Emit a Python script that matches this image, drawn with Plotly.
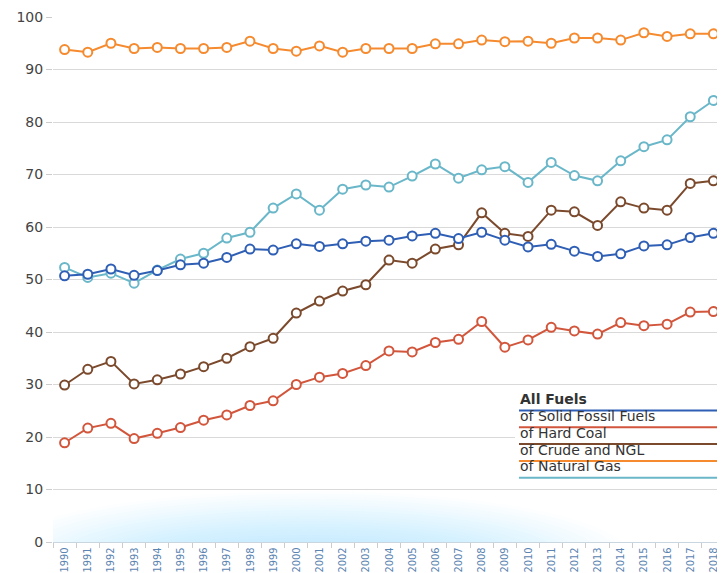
import plotly.graph_objects as go

years = [str(y) for y in range(1990, 2019)]

all_fuels = [50.7, 51.0, 52.0, 50.8, 51.7, 52.8, 53.1, 54.2, 55.8, 55.6, 56.8, 56.3, 56.8, 57.3,
             57.5, 58.3, 58.8, 57.8, 59.0, 57.5, 56.2, 56.7, 55.4, 54.4, 54.9, 56.4, 56.6, 58.0, 58.8]
solid_fossil = [18.9, 21.7, 22.6, 19.7, 20.7, 21.8, 23.2, 24.2, 26.0, 26.9, 30.0, 31.4, 32.1, 33.6,
                36.4, 36.2, 38.0, 38.6, 42.0, 37.1, 38.5, 40.9, 40.2, 39.6, 41.8, 41.2, 41.5, 43.8, 43.9]
hard_coal = [29.9, 32.9, 34.4, 30.1, 30.9, 32.0, 33.4, 35.0, 37.2, 38.8, 43.6, 45.9, 47.8, 49.0,
             53.7, 53.1, 55.8, 56.6, 62.7, 58.8, 58.2, 63.2, 62.9, 60.3, 64.8, 63.6, 63.2, 68.3, 68.8]
crude_ngl = [93.8, 93.3, 95.0, 94.0, 94.2, 94.0, 94.0, 94.2, 95.4, 94.0, 93.5, 94.5, 93.3, 94.0,
             94.0, 94.0, 94.9, 94.9, 95.6, 95.3, 95.4, 95.0, 96.0, 96.0, 95.6, 97.0, 96.3, 96.8, 96.8]
natural_gas = [52.3, 50.4, 51.2, 49.3, 51.8, 53.9, 55.0, 57.9, 59.0, 63.6, 66.3, 63.2, 67.2, 68.0,
               67.6, 69.7, 72.0, 69.3, 70.9, 71.5, 68.5, 72.3, 69.8, 68.8, 72.6, 75.3, 76.6, 81.0, 84.1]

series_names = ["All Fuels", "of Solid Fossil Fuels", "of Hard Coal", "of Crude and NGL", "of Natural Gas"]
series_values = [all_fuels, solid_fossil, hard_coal, crude_ngl, natural_gas]
colors = ["#2f5fb5", "#d2563c", "#7b4a2d", "#f58a2e", "#6ab7c9"]

# The page body adds an 8px offset; target plot area in page pixels: x 53..725, y 17..542
OFF = 8
W, H = 725 - OFF, 573 - OFF
PL, PT, PW, PH = 53, 17, 672, 525
L, T = PL - OFF, PT - OFF
R = W - L - PW
B = H - T - PH

fig = go.Figure()

order = [4, 3, 2, 1, 0]
for i in order:
    fig.add_trace(go.Scatter(
        x=years, y=series_values[i], name=series_names[i], mode="lines+markers",
        line=dict(color=colors[i], width=2),
        marker=dict(symbol="circle", size=9, color="white",
                    line=dict(color=colors[i], width=2)),
        showlegend=False, cliponaxis=False,
    ))


def px_x(p):
    return (p - PL) / PW


def px_y(p):
    return (PT + PH - p) / PH


def dx(p):
    return (p - 65) / 23.18


def dy(p):
    return (542 - p) / 5.25


shapes = []
# soft blue haze along the bottom of the plot area (clipped to plot)
for k in range(20):
    w = 640 - k * 20
    h = 130 - k * 5.5
    cx, cy = 310, 556
    shapes.append(dict(type="circle", xref="x", yref="y",
                       x0=dx(cx - w / 2), x1=dx(cx + w / 2),
                       y0=dy(cy + h / 2), y1=dy(cy - h / 2),
                       fillcolor="rgba(140,200,236,0.022)", line=dict(width=0), layer="below"))

# custom legend
shapes.append(dict(type="rect", xref="paper", yref="paper",
                   x0=px_x(515), x1=px_x(730), y0=px_y(481), y1=px_y(394),
                   fillcolor="white", line=dict(width=0), layer="above"))
annotations = []
line_y = [410.5, 427.3, 444.0, 461.0, 477.8]
for i, name in enumerate(series_names):
    shapes.append(dict(type="line", xref="paper", yref="paper",
                       x0=px_x(519), x1=px_x(730), y0=px_y(line_y[i]), y1=px_y(line_y[i]),
                       line=dict(color=colors[i], width=2), layer="above"))
    annotations.append(dict(xref="paper", yref="paper", x=px_x(518), y=px_y(line_y[i] - 1.5),
                            xanchor="left", yanchor="bottom", showarrow=False,
                            text=("<b>%s</b>" % name) if i == 0 else name,
                            font=dict(family="DejaVu Sans", size=14, color="#333333")))

fig.update_layout(
    width=W, height=H,
    margin=dict(l=L, r=R, t=T, b=B, pad=0, autoexpand=False),
    paper_bgcolor="white", plot_bgcolor="white",
    font=dict(family="DejaVu Sans", color="#444444"),
    shapes=shapes, annotations=annotations,
    xaxis=dict(type="category", range=[-0.5, 28.5], tickson="boundaries", automargin=False,
               ticks="outside", ticklen=5, tickcolor="#cccccc", showgrid=False,
               showline=True, linecolor="#c9d6e0", linewidth=1, tickangle=-90,
               tickfont=dict(family="DejaVu Sans Condensed, DejaVu Sans", size=11, color="#5b84b1"),
               zeroline=False),
    yaxis=dict(range=[0, 100], tickvals=[0, 10, 20, 30, 40, 50, 60, 70, 80, 90, 100], automargin=False,
               showgrid=True, gridcolor="#d9d9d9", gridwidth=1, zeroline=False,
               ticks="outside", ticklen=6, tickcolor="#cccccc",
               tickfont=dict(family="DejaVu Sans", size=14, color="#444444"), showline=False),
)

fig.write_html("out.html")
